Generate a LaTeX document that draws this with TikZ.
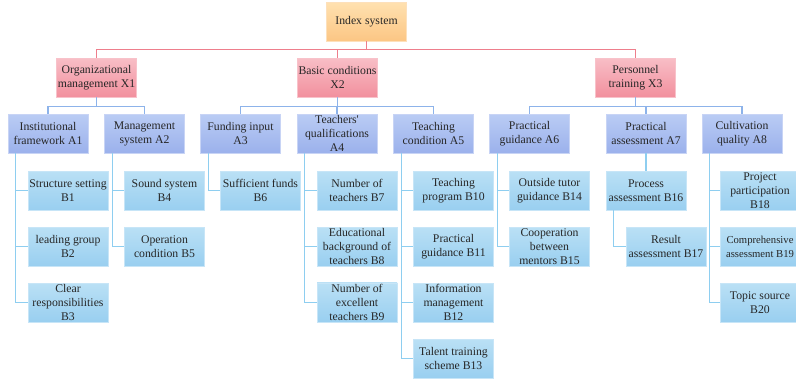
\documentclass[tikz,border=0pt]{standalone}
\usepackage{fontspec}
\setmainfont{Liberation Serif}[Ligatures=TeXOff]
\definecolor{boxink}{HTML}{262626}
\definecolor{roottop}{HTML}{FFE1B0}
\definecolor{rootbot}{HTML}{FCC684}
\definecolor{xtop}{HTML}{F8BEC6}
\definecolor{xbot}{HTML}{F2909E}
\definecolor{atop}{HTML}{BACCF4}
\definecolor{abot}{HTML}{9BB1EC}
\definecolor{btop}{HTML}{BAE0F5}
\definecolor{bbot}{HTML}{99CFF0}
\definecolor{rootline}{HTML}{EE7E8C}
\definecolor{xline}{HTML}{8DB3EA}
\definecolor{aline}{HTML}{8ECEF0}

\begin{document}
\begin{tikzpicture}[x=.75pt,y=-.75pt,font=\fontsize{8.8}{10.5}\selectfont,
    box/.style={align=center,minimum width=60pt,minimum height=29.25pt,inner sep=1pt,text=boxink,line width=.5pt},
    rootbox/.style={box,top color=roottop,bottom color=rootbot,draw=white!45!rootbot},
    xbox/.style={box,top color=xtop,bottom color=xbot,draw=white!45!xbot},
    abox/.style={box,top color=atop,bottom color=abot,draw=white!45!abot},
    bbox/.style={box,top color=btop,bottom color=bbot,draw=white!45!bbot},
    toplink/.style={draw=rootline,line width=.9pt},
    xlink/.style={draw=xline,line width=.9pt},
    alink/.style={draw=aline,line width=.9pt}]
        \useasboundingbox (0,0) rectangle (796,379);

        % index system
        \node[rootbox] (root) at (366.5,21.5) {Index system};

        % first level
        \node[xbox] (x1) at (96.5,77.5) {Organizational\\management X1};
        \node[xbox] (x2) at (337.5,77.5) {Basic conditions\\X2};
        \node[xbox] (x3) at (635.5,77.5) {Personnel\\training X3};

        % second level
        \node[abox] (a1) at (48,133.5) {Institutional\\framework A1};
        \node[abox] (a2) at (144.5,133.5) {Management\\system A2};
        \node[abox] (a3) at (240.5,133.5) {Funding input\\A3};
        \node[abox] (a4) at (337,133.5) {Teachers'\\qualifications\\A4};
        \node[abox] (a5) at (433.5,133.5) {Teaching\\condition A5};
        \node[abox] (a6) at (529.5,133.5) {Practical\\guidance A6};
        \node[abox] (a7) at (646,133.5) {Practical\\assessment A7};
        \node[abox] (a8) at (742,133.5) {Cultivation\\quality A8};

        % third level
        \node[bbox] (b1) at (68,190.5) {Structure setting\\B1};
        \node[bbox] (b2) at (68,246.5) {leading group\\B2};
        \node[bbox] (b3) at (68,302.5) {Clear\\responsibilities\\B3};
        \node[bbox] (b4) at (164.5,190.5) {Sound system\\B4};
        \node[bbox] (b5) at (164.5,246.5) {Operation\\condition B5};
        \node[bbox] (b6) at (260.5,190.5) {Sufficient funds\\B6};
        \node[bbox] (b7) at (357,190.5) {Number of\\teachers B7};
        \node[bbox] (b8) at (357,246.5) {Educational\\background of\\teachers B8};
        \node[bbox] (b9) at (357,302.5) {Number of\\excellent\\teachers B9};
        \node[bbox] (b10) at (453.5,190.5) {Teaching\\program B10};
        \node[bbox] (b11) at (453.5,246.5) {Practical\\guidance B11};
        \node[bbox] (b12) at (453.5,302.5) {Information\\management\\B12};
        \node[bbox] (b13) at (453.5,358.5) {Talent training\\scheme B13};
        \node[bbox] (b14) at (549.5,190.5) {Outside tutor\\guidance B14};
        \node[bbox] (b15) at (549.5,246.5) {Cooperation\\between\\mentors B15};
        \node[bbox] (b16) at (646,190.5) {Process\\assessment B16};
        \node[bbox] (b17) at (666,246.5) {Result\\assessment B17};
        \node[bbox] (b18) at (760,190.5) {Project\\participation\\B18};
        \node[bbox,font=\fontsize{8}{10.5}\selectfont] (b19) at (760,246.5) {Comprehensive\\assessment B19};
        \node[bbox] (b20) at (760,302.5) {Topic source\\B20};

        % connectors
        \foreach \x in {x1,x2,x3}
          \draw[toplink] (root.south) -- ++(0,8) -| (\x.north);
        \foreach \x/\a in {x1/a1,x1/a2,x2/a3,x2/a4,x2/a5,x3/a6,x3/a7,x3/a8}
          \draw[xlink] (\x.south) -- ++(0,9) -| (\a.north);
        \foreach \a/\b in {a1/b1,a1/b2,a1/b3,a2/b4,a2/b5,a3/b6,a4/b7,a4/b8,a4/b9,
            a5/b10,a5/b11,a5/b12,a5/b13,a6/b14,a6/b15,a8/b18,a8/b19,a8/b20,b16/b17}
          \draw[alink] ([xshift=6pt]\a.south west) |- (\b.west);
        \draw[alink] (a7) -- (b16);
      \end{tikzpicture}
\end{document}
